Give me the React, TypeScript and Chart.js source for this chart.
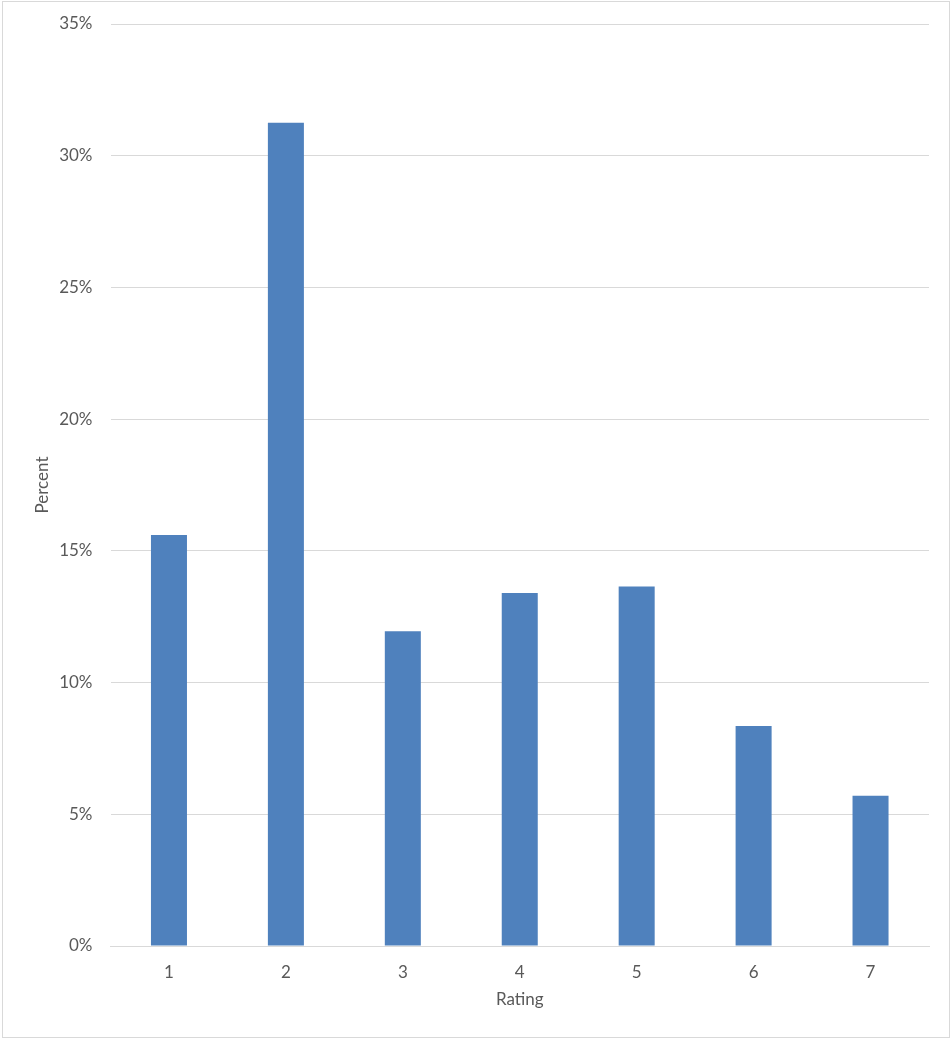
import React, { useEffect, useRef } from "react";
import { Chart, registerables } from "chart.js";

Chart.register(...registerables);

const categories = ["1", "2", "3", "4", "5", "6", "7"];
const percentValues = [15.6, 31.25, 11.95, 13.4, 13.65, 8.35, 5.7];
const yTicks = [0, 5, 10, 15, 20, 25, 30, 35];

const W = 952;
const H = 1039;
const FONT = "Lato, 'Open Sans', sans-serif";
const TEXT = "#595959";
const GRID = "#d9d9d9";
const BAR = "#4f81bd";

const borderPlugin = {
  id: "outerBorder",
  afterDraw(chart: any) {
    const ctx = chart.ctx;
    ctx.save();
    ctx.strokeStyle = "#d9d9d9";
    ctx.lineWidth = 1;
    ctx.strokeRect(2.5, 1.5, W - 5, H - 3);
    ctx.restore();
  },
};

export default function App() {
  const ref = useRef<HTMLCanvasElement>(null);
  useEffect(() => {
    if (!ref.current) return;
    const chart = new Chart(ref.current, {
      type: "bar",
      data: {
        labels: categories,
        datasets: [
          {
            label: "Percent",
            data: percentValues,
            backgroundColor: BAR,
            borderWidth: 0,
            barPercentage: 0.308,
            categoryPercentage: 1,
          },
        ],
      },
      options: {
        responsive: false,
        animation: false,
        devicePixelRatio: 1,
        layout: { padding: { left: 0, right: 23, top: 24, bottom: 0 } },
        plugins: {
          legend: { display: false },
          tooltip: { enabled: false },
        },
        scales: {
          x: {
            grid: { display: false, drawTicks: false },
            border: { display: true, color: GRID, width: 1 },
            ticks: { color: TEXT, font: { family: FONT, size: 17 }, padding: 16 },
            title: {
              display: true,
              text: "Rating",
              color: TEXT,
              font: { family: FONT, size: 17 },
              padding: { top: 0, bottom: 29 },
            },
            afterFit(scale: any) {
              scale.height = 93;
              scale.paddingLeft = 0;
              scale.paddingRight = 0;
            },
          },
          y: {
            min: 0,
            max: 35,
            afterBuildTicks(scale: any) {
              scale.ticks = yTicks.map((v) => ({ value: v }));
            },
            grid: { color: GRID, drawTicks: false, lineWidth: 1 },
            border: { display: false },
            ticks: {
              color: TEXT,
              font: { family: FONT, size: 17 },
              padding: 18,
              callback: (v: any) => v + "%",
            },
            title: {
              display: true,
              text: "Percent",
              color: TEXT,
              font: { family: FONT, size: 17 },
              padding: { top: 32, bottom: 0 },
            },
            afterFit(scale: any) {
              scale.width = 110.5;
              scale.paddingTop = 0;
              scale.paddingBottom = 0;
            },
          },
        },
      },
      plugins: [borderPlugin],
    });
    return () => chart.destroy();
  }, []);
  return (
    <div style={{ position: "absolute", left: 0, top: 0, width: W, height: H, background: "#fff" }}>
      <canvas ref={ref} width={W} height={H} style={{ width: W, height: H, display: "block" }} />
    </div>
  );
}
